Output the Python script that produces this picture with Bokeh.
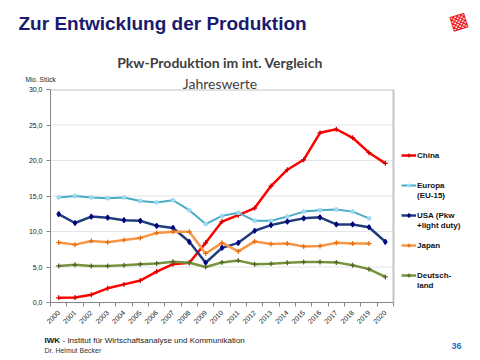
import math
from bokeh.plotting import figure
from bokeh.models import (Range1d, FixedTicker, Label, Legend, LegendItem)
from bokeh.embed import file_html
from bokeh.resources import INLINE

# ---------------- data (Mio. Stück) ----------------
years = list(range(2000, 2021))
china = [0.66, 0.7, 1.1, 2.0, 2.55, 3.1, 4.35, 5.4, 5.6, 8.4, 11.4, 12.3, 13.3,
         16.4, 18.7, 20.1, 23.9, 24.4, 23.2, 21.1, 19.6]
europa_years = list(range(2000, 2020))
europa = [14.8, 15.0, 14.8, 14.7, 14.8, 14.3, 14.1, 14.4, 13.0, 11.05, 12.2, 12.65,
          11.5, 11.5, 12.1, 12.8, 13.0, 13.1, 12.8, 11.85]
usa = [12.45, 11.2, 12.1, 11.95, 11.6, 11.5, 10.8, 10.5, 8.55, 5.6, 7.7, 8.4, 10.1,
       10.9, 11.4, 11.85, 12.0, 11.0, 11.0, 10.6, 8.55]
japan_years = list(range(2000, 2020))
japan = [8.45, 8.15, 8.65, 8.5, 8.8, 9.1, 9.8, 9.95, 9.95, 6.9, 8.4, 7.2, 8.6,
         8.25, 8.3, 7.9, 7.95, 8.4, 8.3, 8.3]
deutschland = [5.15, 5.3, 5.15, 5.15, 5.25, 5.4, 5.5, 5.75, 5.6, 5.0, 5.65, 5.9, 5.4,
               5.45, 5.6, 5.7, 5.7, 5.65, 5.25, 4.7, 3.6]
y_ticks = [0, 5, 10, 15, 20, 25, 30]
y_tick_labels = ["0,0", "5,0", "10,0", "15,0", "20,0", "25,0", "30,0"]

W, H = 480, 360
FL, FT, FB = 50, 89, 302          # frame left / top / bottom (canvas px)
CR = 393                           # right edge of the chart area (canvas px)
X0, XR, Y0, Y1 = 1999.5, 2020.5, 0, 30
PXU = (CR - FL) / (XR - X0)        # px per year
X1 = X0 + (W - FL) / PXU           # frame extends to canvas right (legend area)

p = figure(width=W, height=H, output_backend="svg", toolbar_location=None,
           x_range=Range1d(X0, X1), y_range=Range1d(Y0, Y1),
           background_fill_color="white", border_fill_color="white")
p.min_border_left = FL
p.min_border_right = 0
p.min_border_top = FT
p.min_border_bottom = H - FB
p.outline_line_color = None

# axes
ax_col = "#868686"
p.xaxis.bounds = (X0, XR)
p.xaxis.ticker = FixedTicker(ticks=years, minor_ticks=[y + 0.5 for y in range(1999, 2021)])
p.xaxis.major_tick_out = 0
p.xaxis.major_tick_in = 0
p.xaxis.minor_tick_out = 4
p.xaxis.minor_tick_in = 0
p.xaxis.minor_tick_line_color = ax_col
p.xaxis.axis_line_color = ax_col
p.xaxis.major_label_orientation = math.pi / 4
p.xaxis.major_label_text_font = "Liberation Sans"
p.xaxis.major_label_text_font_size = "7px"
p.xaxis.major_label_text_color = "#222222"
p.xaxis.major_label_standoff = 5

p.yaxis.ticker = FixedTicker(ticks=y_ticks)
p.yaxis.major_label_overrides = {t: s for t, s in zip(y_ticks, y_tick_labels)}
p.yaxis.major_tick_out = 4
p.yaxis.major_tick_in = 0
p.yaxis.minor_tick_out = 0
p.yaxis.major_tick_line_color = ax_col
p.yaxis.axis_line_color = ax_col
p.yaxis.major_label_text_font = "Liberation Sans"
p.yaxis.major_label_text_font_size = "7px"
p.yaxis.major_label_text_color = "#222222"
p.yaxis.major_label_standoff = 4

p.xgrid.visible = False
p.ygrid.visible = False

# grid lines and plot-area border, limited to the chart area
inner = y_ticks[1:-1]
p.segment(x0=[X0] * len(inner), x1=[XR] * len(inner), y0=inner, y1=inner,
          line_color="#e4e4e4", line_width=1)
p.segment(x0=[X0, XR], y0=[Y1, Y1], x1=[XR, XR], y1=[Y1, Y0],
          line_color="#c4c4c4", line_width=2)

# series
series = [
    ("China", years, china, "#ff0000", "cross", "#cc0000", 2.5),
    ("Europa", europa_years, europa, "#4bacc6", "asterisk", "#9ad9ef", 2.0),
    ("USA (Pkw", years, usa, "#1f3d7a", "diamond", "#000080", 2.5),
    ("Japan", japan_years, japan, "#f79646", "cross", "#e46c0a", 2.5),
    ("Deutsch-", years, deutschland, "#77933c", "cross", "#4f6228", 2.5),
]
rend = {}
for name, xs, ys, col, mk, mcol, lw in series:
    lr = p.line(xs, ys, line_color=col, line_width=lw)
    sr = p.scatter(xs, ys, marker=mk, size=5, line_color=mcol, fill_color=mcol, line_width=1.2)
    rend[name] = [lr, sr]

blank = p.line([], [], line_alpha=0)
rows = ["China", " ", " ", "Europa", "(EU-15)", " ", "USA (Pkw", "+light duty)", " ",
        "Japan", " ", " ", "Deutsch-", "land"]
items = [LegendItem(label=r, renderers=rend.get(r, [blank])) for r in rows]

legend = Legend(items=items, location=(401 - FL, FB - 290),
                border_line_alpha=0, background_fill_alpha=0,
                padding=0, margin=0, spacing=0, glyph_width=15, glyph_height=10,
                label_height=10, label_standoff=1,
                label_text_font="Liberation Sans", label_text_font_size="8px",
                label_text_font_style="bold", label_text_color="#111111")
p.add_layout(legend, "center")


def dx(px):
    return X0 + (px - FL) / PXU


def dy(py):
    return Y0 + (FB - py) / (FB - FT) * (Y1 - Y0)


def lab(side, px, py, text, size, color, style="normal", font="Liberation Sans",
        align="left", angle=0.0):
    p.add_layout(Label(x=dx(px), y=dy(py), text=text, text_font=font,
                       text_font_size=size, text_color=color,
                       text_font_style=style, text_align=align,
                       text_baseline="middle", angle=angle), side)


# titles (above panel)
lab("above", 18, 22.5, "Zur Entwicklung der Produktion", "19px", "#1a1a6e", "bold")
lab("above", 219.5, 62.3, "Pkw-Produktion im int. Vergleich", "14px", "#404040", "bold",
    font="Lato", align="center")
lab("above", 219.5, 83, "Jahreswerte", "14px", "#404040", font="Lato", align="center")
lab("above", 25, 78.5, "Mio. Stück", "6.5px", "#222222")
lab("above", 461, 345.5, "36", "9px", "#1f6fbf", "bold", align="right")

# logo
lab("left", 458, 20, "▩", "20px", "#ee1c25", font="DejaVu Sans", align="center", angle=0.3)

# footer
lab("below", 44, 340, "IWK", "8px", "#111111", "bold")
lab("below", 62, 340, "-  Institut für Wirtschaftsanalyse  und Kommunikation", "8px", "#222222")
lab("below", 44, 349.5, "Dr. Helmut Becker", "7px", "#333333")

open("out.html", "w").write(file_html(p, INLINE))
